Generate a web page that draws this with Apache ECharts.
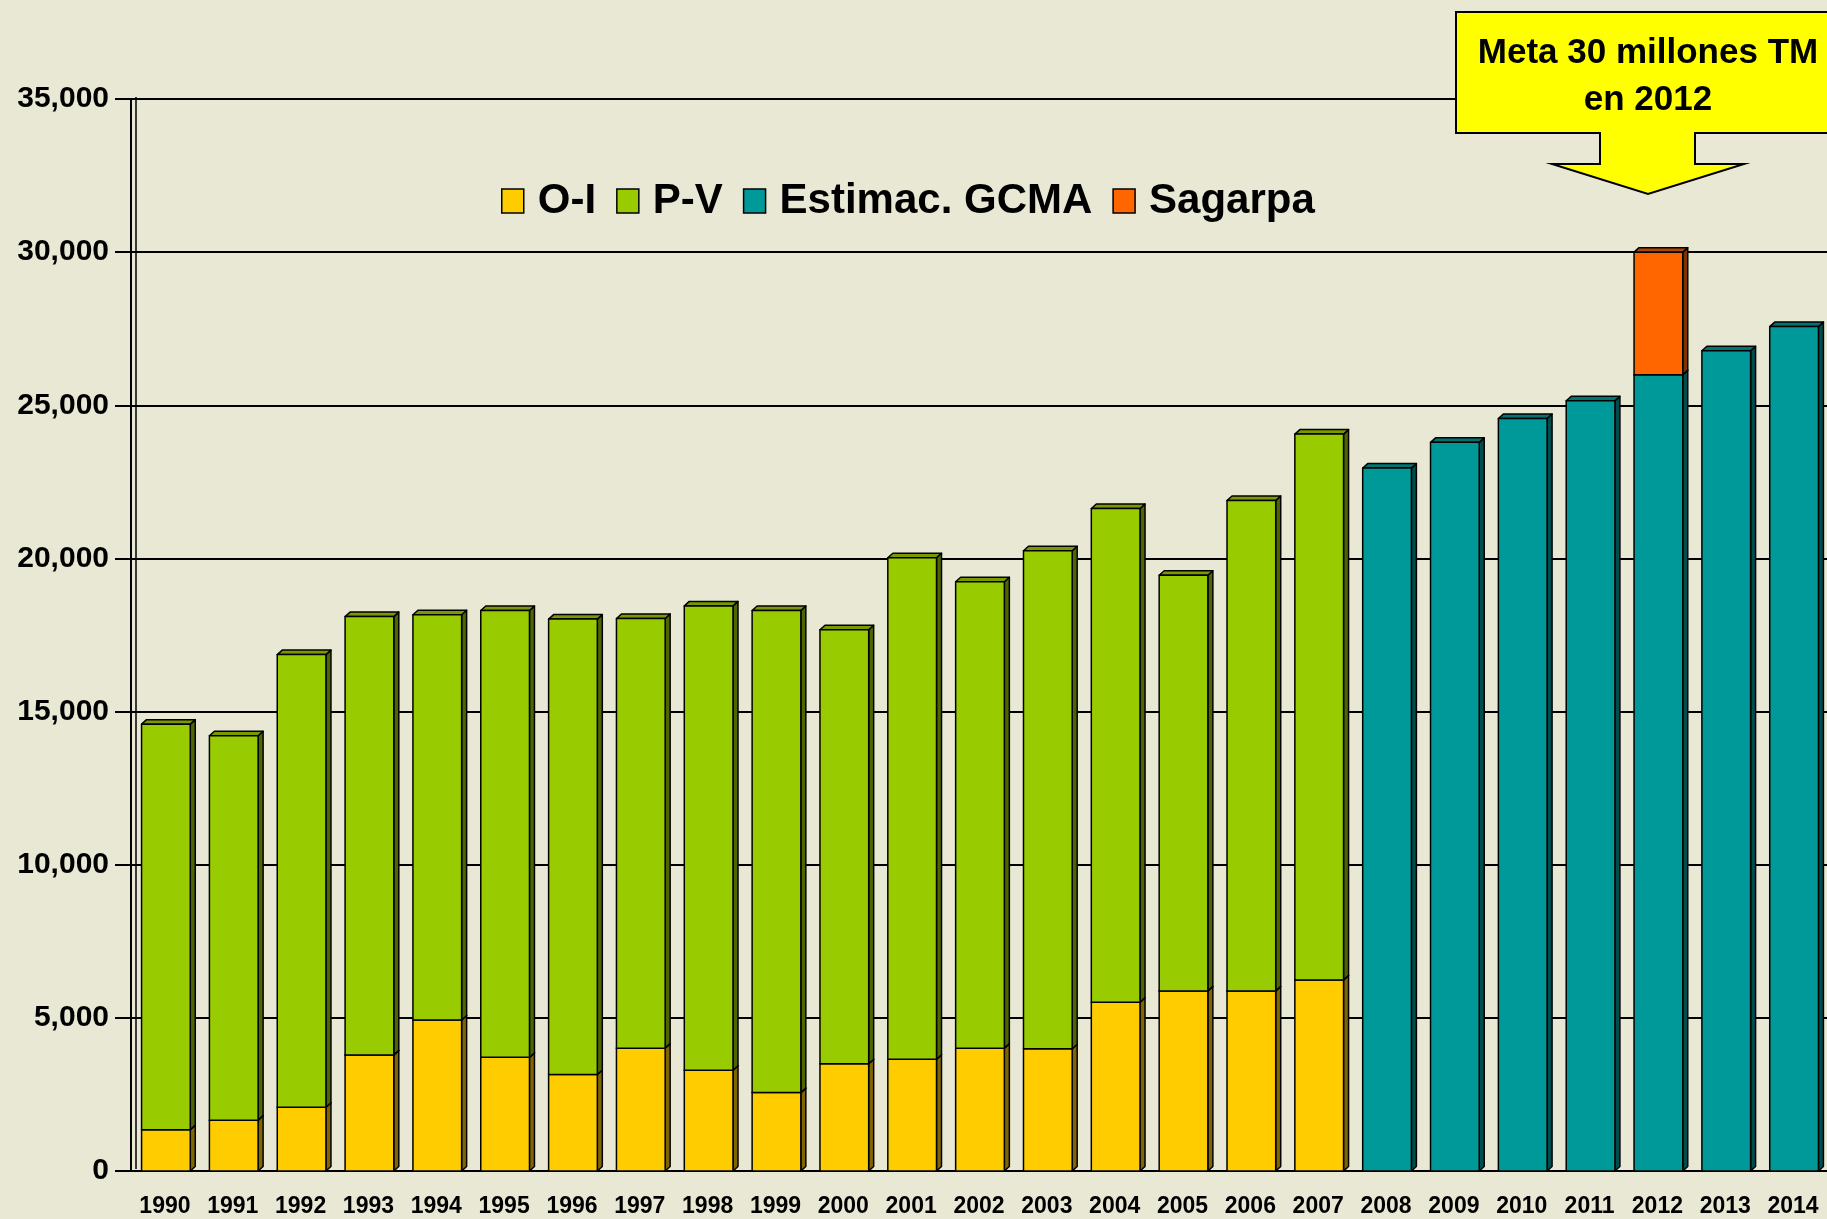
<!DOCTYPE html>
<html>
<head>
<meta charset="utf-8">
<title>Producción de maíz</title>
<script src="https://cdn.jsdelivr.net/npm/echarts@6/dist/echarts.min.js"></script>
<style>
  html, body { margin: 0; padding: 0; background: #E9E8D5; }
  #chart { width: 1827px; height: 1219px; }
</style>
</head>
<body>
<div id="chart"></div>
<script>
// datos (miles de TM)
var years = ['1990','1991','1992','1993','1994','1995','1996','1997','1998','1999','2000','2001',
             '2002','2003','2004','2005','2006','2007','2008','2009','2010','2011','2012','2013','2014'];
var oi = [1350,1660,2080,3790,4930,3710,3150,4010,3290,2560,3500,3650,4010,3990,5510,5880,5880,6240,
          0,0,0,0,0,0,0];
var pv = [13240,12550,14780,14310,13230,14590,14870,14030,15160,15740,14170,16370,15230,16260,16120,13570,16010,17820,
          0,0,0,0,0,0,0];
var gcma = [0,0,0,0,0,0,0,0,0,0,0,0,0,0,0,0,0,0,
            22950,23790,24570,25150,26000,26780,27570];
var sagarpa = [0,0,0,0,0,0,0,0,0,0,0,0,0,0,0,0,0,0,
               0,0,0,0,4000,0,0];
var yTicks = [0,5000,10000,15000,20000,25000,30000,35000];

var FONT = '"Liberation Sans", Arial, sans-serif';
var zeros = years.map(function () { return 0; });

// barra con efecto 3D: cara lateral, tapa y frente
function bar3d(name, values, base, color, side, top) {
  return {
    name: name,
    type: 'custom',
    itemStyle: { color: color, borderColor: '#000', borderWidth: 1.5 },
    encode: { x: 0, y: 1 },
    data: years.map(function (y, i) { return [i, values[i], base[i]]; }),
    renderItem: function (params, api) {
      var i = api.value(0), v = api.value(1), b = api.value(2);
      if (!v) return;
      var pT = api.coord([i, b + v]);
      var pB = api.coord([i, b]);
      var w = 48.7, dx = 5, dy = 4.5;
      var x0 = pT[0] - w / 2 + 1, x1 = x0 + w;
      var yT = pT[1], yB = pB[1];
      var st = { stroke: '#000', lineWidth: 1.5, lineJoin: 'round' };
      return {
        type: 'group',
        children: [
          { type: 'polygon', shape: { points: [[x1, yB], [x1, yT], [x1 + dx, yT - dy], [x1 + dx, yB - dy]] },
            style: Object.assign({ fill: side }, st) },
          { type: 'polygon', shape: { points: [[x0, yT], [x1, yT], [x1 + dx, yT - dy], [x0 + dx, yT - dy]] },
            style: Object.assign({ fill: top }, st) },
          { type: 'rect', shape: { x: x0, y: yT, width: w, height: yB - yT },
            style: Object.assign({ fill: color }, st) }
        ]
      };
    }
  };
}

var chart = echarts.init(document.getElementById('chart'));
chart.setOption({
  backgroundColor: '#E9E8D5',
  animation: false,
  grid: { left: 131, top: 99, width: 1703, height: 1072 },
  legend: {
    left: 496, top: 175,
    icon: 'rect', itemWidth: 22, itemHeight: 24, itemGap: 20,
    itemStyle: { borderColor: '#000', borderWidth: 1.5 },
    textStyle: { fontFamily: FONT, fontWeight: 'bold', fontSize: 42, color: '#000', padding: [0, 0, 0, 9] },
    data: ['O-I', 'P-V', 'Estimac. GCMA', 'Sagarpa']
  },
  xAxis: {
    type: 'category',
    data: years,
    axisLine: { lineStyle: { color: '#000', width: 2 } },
    axisTick: { length: 16, lineStyle: { color: '#000', width: 2 } },
    axisLabel: { margin: 24, fontFamily: FONT, fontWeight: 'bold', fontSize: 23, color: '#000' }
  },
  yAxis: {
    type: 'value',
    min: yTicks[0], max: yTicks[yTicks.length - 1], interval: 5000,
    axisLine: { show: true, lineStyle: { color: '#000', width: 2 } },
    axisTick: { show: true, length: 16, lineStyle: { color: '#000', width: 2 } },
    splitLine: { lineStyle: { color: '#000', width: 1.8 } },
    axisLabel: {
      margin: 22, fontFamily: FONT, fontWeight: 'bold', fontSize: 30, color: '#000',
      formatter: function (v) { return v.toLocaleString('en-US'); }
    }
  },
  series: [
    bar3d('O-I', oi, zeros, '#FFCC00', '#806600', '#B38F00'),
    bar3d('P-V', pv, oi, '#99CC00', '#4D6600', '#7A9900'),
    bar3d('Estimac. GCMA', gcma, zeros, '#009999', '#004D4D', '#007373'),
    bar3d('Sagarpa', sagarpa, gcma, '#FF6600', '#803300', '#B34700')
  ],
  graphic: [
    // pared trasera
    { type: 'line', shape: { x1: 136, y1: 97, x2: 136, y2: 1169 }, style: { stroke: '#000', lineWidth: 1.5 }, z: 1 },
    // globo "Meta"
    {
      type: 'polygon', z: 100,
      shape: { points: [[1456, 12], [1850, 12], [1850, 133], [1695, 133], [1695, 164], [1744, 164],
                        [1648, 194], [1552, 164], [1600, 164], [1600, 133], [1456, 133]] },
      style: { fill: '#FFFF00', stroke: '#000', lineWidth: 2 }
    },
    {
      type: 'text', z: 101, x: 1648, y: 30,
      style: {
        text: 'Meta 30 millones TM\nen 2012', align: 'center', verticalAlign: 'top',
        font: 'bold 35px ' + FONT, lineHeight: 47, fill: '#000'
      }
    }
  ]
});
</script>
</body>
</html>
